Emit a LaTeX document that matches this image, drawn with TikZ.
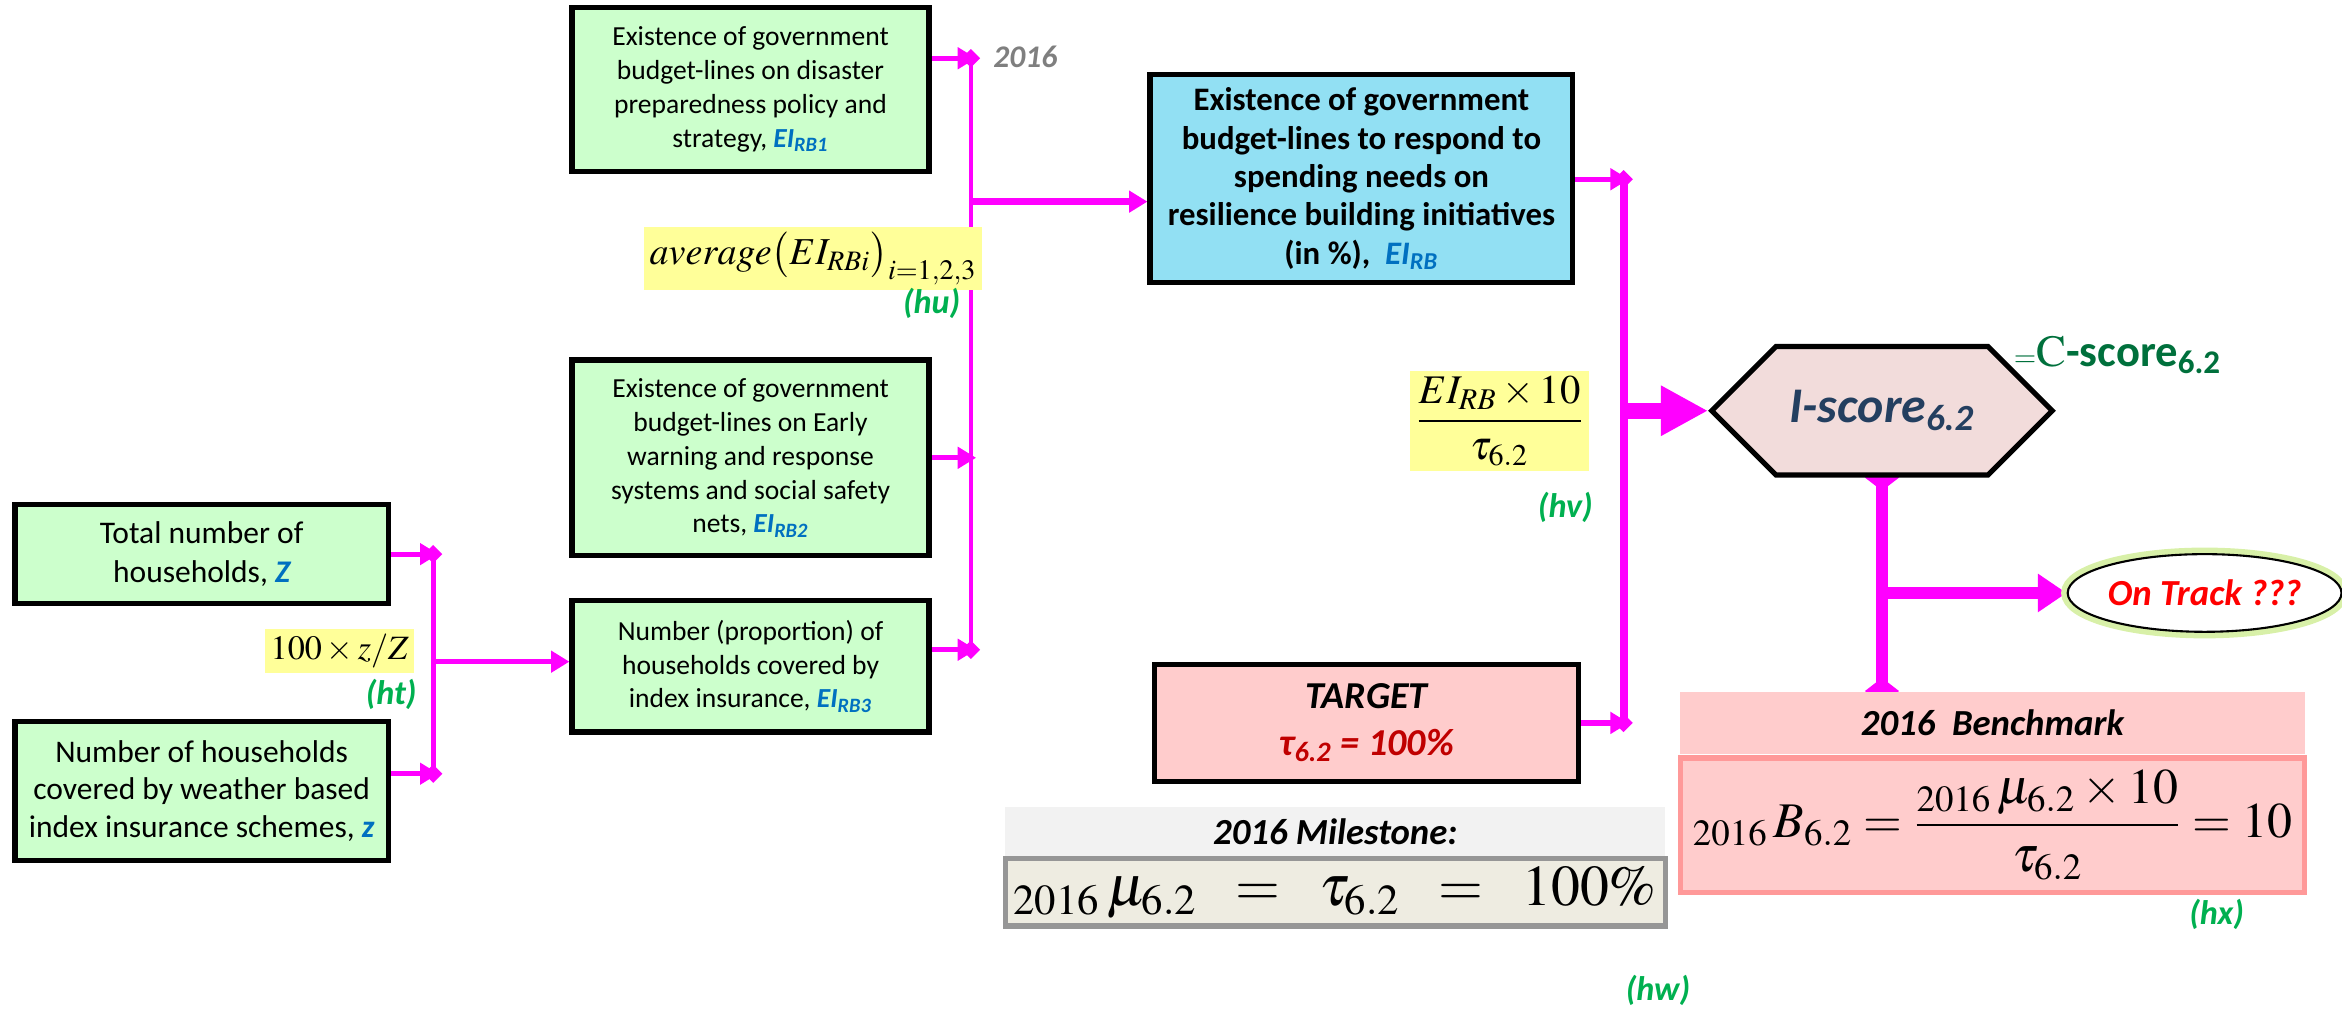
\documentclass[tikz,border=0pt]{standalone}
\usepackage{amsmath}
\usepackage{mathptmx}
\usepackage[no-math]{fontspec}
\setmainfont{Carlito}
\usepackage{tikz}
\usetikzlibrary{arrows.meta,calc,positioning,backgrounds,shapes.geometric,shapes.symbols}
\definecolor{inCol}{HTML}{CCFFCC}
\definecolor{outCol}{HTML}{92E0F3}
\definecolor{lnkCol}{HTML}{FF00FF}
\definecolor{eqCol}{HTML}{FFFF99}
\definecolor{tagCol}{HTML}{00B050}
\definecolor{eiCol}{HTML}{0070C0}
\definecolor{hexCol}{HTML}{F2DCDB}
\definecolor{hexTxt}{HTML}{243F60}
\definecolor{csCol}{HTML}{00703C}
\definecolor{tgtCol}{HTML}{FFCCCC}
\definecolor{tgtTxt}{HTML}{C00000}
\definecolor{bmEdge}{HTML}{FF9999}
\definecolor{msHead}{HTML}{F2F2F2}
\definecolor{msCol}{HTML}{EEECE1}
\definecolor{msEdge}{HTML}{969696}
\definecolor{glowCol}{HTML}{D8F0A8}
\definecolor{yrCol}{HTML}{7F7F7F}
\newcommand{\eiq}[1]{{\color{eiCol}\bfseries\itshape EI\textsubscript{#1}}}
\tikzset{
  ibox/.style n args={2}{draw=black, fill=inCol, line width=2pt, align=center,
        minimum width=#1, minimum height=#2, inner sep=2pt,
        font=\fontsize{10.5}{12.9}\selectfont},
  obox/.style={draw=black, fill=outCol, line width=2pt, align=center,
        minimum width=5.66cm, minimum height=2.78cm, inner sep=2pt,
        font=\fontsize{12.5}{14.6}\selectfont\bfseries},
  tbox/.style={draw=black, fill=tgtCol, line width=2pt, align=center,
        minimum width=5.68cm, minimum height=1.56cm, inner sep=2pt,
        font=\fontsize{14.5}{18}\selectfont\bfseries\itshape},
  hexa/.style={signal, signal to=east and west, draw=black, line width=2pt,
        fill=hexCol, minimum width=4.56cm, minimum height=1.72cm, inner sep=1pt,
        text=hexTxt, font=\fontsize{19}{22}\selectfont\bfseries\itshape},
  track/.style={ellipse, draw=black, line width=0.8pt, fill=white,
        preaction={draw=glowCol, line width=5pt},
        minimum width=3.36cm, minimum height=1.04cm, inner sep=0pt,
        text=red, font=\fontsize{14}{16}\selectfont\bfseries\itshape},
  band/.style={fill=#1, minimum width=8.36cm, inner sep=0pt,
        font=\fontsize{14}{16}\selectfont\bfseries\itshape},
  eqlbl/.style={fill=eqCol, inner sep=2pt, font=\fontsize{#1}{#1}\selectfont},
  eqlbl/.default=14,
  tag/.style={text=tagCol, inner sep=1pt, font=\fontsize{13}{15}\selectfont\bfseries\itshape},
  lnk/.style={draw=lnkCol, line width=2pt, -{Triangle[length=7pt,width=8pt]}},
  busline/.style={draw=lnkCol, line width=#1,
        {Diamond[length=7pt,width=7pt]}-{Diamond[length=7pt,width=7pt]},
        shorten <=-3.5pt, shorten >=-3.5pt},
  busline/.default=2pt,
  fatA/.style={draw=lnkCol, line width=6pt, -{Triangle[length=18pt,width=18pt]}},
  fatB/.style={draw=lnkCol, line width=4.5pt, -{Triangle[length=11pt,width=14pt]}},
  stem/.style={draw=lnkCol, line width=4.5pt,
        {Diamond[length=10pt,width=13pt]}-{Diamond[length=10pt,width=13pt]},
        shorten <=-5pt, shorten >=-5pt},
}

\begin{document}
\begin{tikzpicture}
  \useasboundingbox (0,0) rectangle (31.36,-13.6);
  % households -> EI_RB3
  \node[ibox={5.0cm}{1.32cm}, font=\fontsize{12}{14.6}\selectfont] (hhTot) at (2.70,-7.42)
       {Total number of\\households, {\color{eiCol}\bfseries\itshape Z}};
  \node[ibox={5.0cm}{1.86cm}, font=\fontsize{12}{14.2}\selectfont] (hhIns) at (2.70,-10.59)
       {Number of households\\covered by weather based\\index insurance schemes, {\color{eiCol}\bfseries\itshape z}};
  % the three sub-indicators
  \node[ibox={4.78cm}{2.20cm}] (rb1) at (10.05,-1.20)
       {Existence of government\\budget-lines on disaster\\preparedness policy and\\strategy, \eiq{RB1}};
  \node[ibox={4.78cm}{2.62cm}] (rb2) at (10.05,-6.13)
       {Existence of government\\budget-lines on Early\\warning and response\\systems and social safety\\nets, \eiq{RB2}};
  \node[ibox={4.78cm}{1.76cm}] (rb3) at (10.05,-8.92)
       {Number (proportion) of\\households covered by\\index insurance, \eiq{RB3}};
  % composite, target, score
  \node[obox] (rb) at (18.23,-2.39)
       {Existence of government\\budget-lines to respond to\\spending needs on\\resilience building initiatives\\(in \%),~~\eiq{RB}};
  \node[tbox] (tgt) at (18.30,-9.68)
       {TARGET\\{\color{tgtTxt}τ\textsubscript{6.2} = 100\%}};
  \node[hexa] (hex) at (25.20,-5.50) {I-score\textsubscript{6.2}};
  \node[track] (track) at (29.52,-7.94) {On Track ???};
  % milestone / benchmark panels
  \node[band=msHead, minimum width=8.84cm, minimum height=0.68cm] (msHd) at (17.88,-11.14) {2016 Milestone:};
  \node[draw=msEdge, fill=msCol, line width=2pt, minimum width=8.84cm, minimum height=0.90cm,
        inner sep=0pt, font=\fontsize{22}{24}\selectfont] (msBox) at (17.88,-11.95)
       {${}_{2016}\,\mu_{6.2} \;\;=\;\; \tau_{6.2} \;\;=\;\; 100\%$};
  \node[band=tgtCol, minimum height=0.84cm] (bmHd) at (26.68,-9.68) {2016~~Benchmark};
  \node[draw=bmEdge, fill=tgtCol, line width=2pt, minimum width=8.36cm, minimum height=1.80cm,
        inner sep=0pt, font=\fontsize{19}{22}\selectfont] (bmBox) at (26.68,-11.05)
       {${}_{2016}\,B_{6.2} = \dfrac{{}_{2016}\,\mu_{6.2}\times 10}{\tau_{6.2}} = 10$};
  % formulas and tags
  \node[eqlbl=13] (eqHt) at (4.55,-8.72) {$100\times z/Z$};
  \node[tag, anchor=east] (tagHt) at (5.62,-9.30) {(ht)};
  \node[eqlbl=14.5] (eqHu) at (10.89,-3.46) {$average\bigl(EI_{RBi}\bigr)_{i=1,2,3}$};
  \node[tag, anchor=east] (tagHu) at (12.90,-4.06) {(hu)};
  \node[text=yrCol, font=\fontsize{12}{14}\selectfont\bfseries\itshape] (yr) at (13.73,-0.76) {2016};
  \node[eqlbl=15.5] (eqHv) at (20.08,-5.64) {$\dfrac{EI_{RB}\times 10}{\tau_{6.2}}$};
  \node[tag] (tagHv) at (20.96,-6.80) {(hv)};
  \node[anchor=west, text=csCol, inner sep=0pt, font=\fontsize{17}{20}\selectfont\bfseries] (cs) at (26.96,-4.76)
       {{\fontsize{11}{11}\selectfont$=$}$\mathrm{C}$-score\textsubscript{6.2}};
  \node[tag] (tagHx) at (29.68,-12.24) {(hx)};
  \node[tag] (tagHw) at (22.20,-13.26) {(hw)};
  % junctions
  \coordinate (aTop) at (5.80,-7.42);
  \coordinate (aBot) at (5.80,-10.36);
  \coordinate (aMid) at (5.80,-8.86);
  \coordinate (bTop) at (13.00,-0.78);
  \coordinate (bBot) at (13.00,-8.70);
  \coordinate (bMid) at (13.00,-2.70);
  \coordinate (cTop) at (21.74,-2.40);
  \coordinate (cBot) at (21.74,-9.68);
  \coordinate (cMid) at (21.74,-5.50);
  \coordinate (dMid) at (hex.south |- track.west);
  \begin{scope}[on background layer]
    \draw[busline] (aTop) -- (aBot);
    \draw[lnk, shorten >=-2pt] (hhTot) -- (aTop);
    \draw[lnk, shorten >=-2pt] (hhIns.east |- aBot) -- (aBot);
    \draw[lnk] (aMid) -- (rb3.west |- aMid);
    \draw[busline=1.8pt] (bTop) -- (bBot);
    \draw[lnk, shorten >=-2pt] (rb1.east |- bTop) -- (bTop);
    \draw[lnk, shorten >=-2pt] (rb2.east) -- (rb2.east -| bTop);
    \draw[lnk, shorten >=-2pt] (rb3.east |- bBot) -- (bBot);
    \draw[lnk, line width=2.5pt] (bMid) -- (rb.west |- bMid);
    \draw[busline=3pt] (cTop) -- (cBot);
    \draw[lnk, shorten >=-2pt] (rb.east |- cTop) -- (cTop);
    \draw[lnk, shorten >=-2pt] (tgt) -- (cBot);
    \draw[fatA] (cMid) -- (hex.west);
    \draw[stem] (hex.south) -- (hex.south |- bmHd.north);
    \draw[fatB] (dMid) -- (track.west);
  \end{scope}
\end{tikzpicture}
\end{document}
